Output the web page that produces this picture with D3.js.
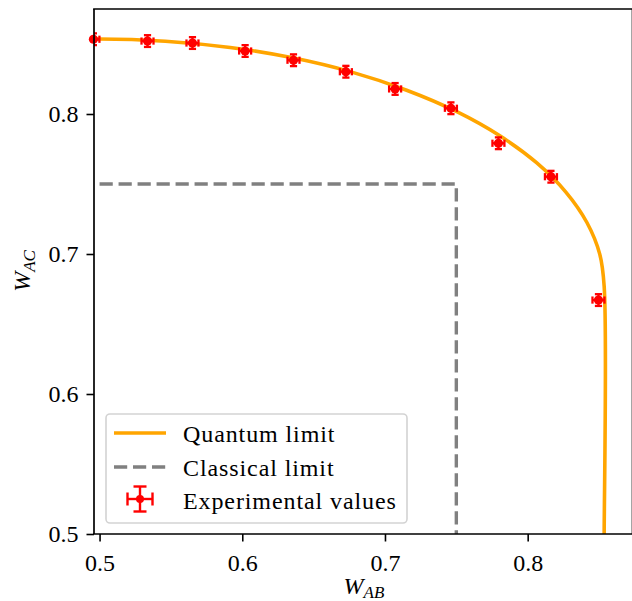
<!DOCTYPE html>
<html>
<head>
<meta charset="utf-8">
<script src="https://cdn.jsdelivr.net/npm/d3@7"></script>
<style>
html,body{margin:0;padding:0;background:#fff;}
svg{display:block;}
text{font-family:"Liberation Serif","Tinos","Times New Roman",serif;fill:#000;}
</style>
</head>
<body>
<div id="chart"></div>
<script>
// ---- data ----
const xTicks = [0.5, 0.6, 0.7, 0.8];
const yTicks = [0.5, 0.6, 0.7, 0.8];
const xTickLabels = ["0.5", "0.6", "0.7", "0.8"];
const yTickLabels = ["0.5", "0.6", "0.7", "0.8"];

// quantum limit curve (estimated along the orange line)
const quantumX = [0.4539, 0.5000, 0.5461, 0.5915, 0.6353, 0.6768, 0.7152, 0.7500, 0.7805, 0.8062, 0.8266, 0.8415, 0.8505, 0.8536, 0.8536, 0.8536];
const quantumY = [0.8520, 0.8536, 0.8520, 0.8475, 0.8401, 0.8299, 0.8170, 0.8018, 0.7844, 0.7652, 0.7444, 0.7225, 0.6999, 0.6768, 0.5000, 0.4900];

// classical limit
const classicalX = [0.5, 0.75, 0.75];
const classicalY = [0.75, 0.75, 0.49];

// experimental values
const expX = [0.4957, 0.5336, 0.5651, 0.6020, 0.6359, 0.6726, 0.7071, 0.7462, 0.7795, 0.8163, 0.8496];
const expY = [0.8534, 0.8521, 0.8507, 0.8450, 0.8384, 0.8302, 0.8179, 0.8041, 0.7791, 0.7552, 0.6671];
const expXErr = [0.0042, 0.0042, 0.0042, 0.0042, 0.0042, 0.0042, 0.0042, 0.0042, 0.0042, 0.0042, 0.0042];
const expYErr = [0.0042, 0.0042, 0.0042, 0.0042, 0.0042, 0.0042, 0.0042, 0.0042, 0.0042, 0.0042, 0.0042];

const legendLabels = ["Quantum limit", "Classical limit", "Experimental values"];

// ---- layout ----
const W = 632, H = 601;
const L = 94, R = 632.5, T = 9, B = 534;

const svg = d3.select("#chart").append("svg").attr("width", W).attr("height", H);

const x = d3.scaleLinear().domain([0.4961, 0.8731]).range([L, 632]);
const y = d3.scaleLinear().domain([0.5, 0.875]).range([B, T]);

svg.append("defs").append("clipPath").attr("id", "clip")
  .append("rect").attr("x", L).attr("y", T).attr("width", R - L).attr("height", B - T);

const plot = svg.append("g").attr("clip-path", "url(#clip)");

const quantum = quantumX.map((v, i) => [v, quantumY[i]]);
const classical = classicalX.map((v, i) => [v, classicalY[i]]);

plot.append("path").datum(quantum)
  .attr("d", d3.line().x(d => x(d[0])).y(d => y(d[1])).curve(d3.curveCatmullRom.alpha(0.5)))
  .attr("fill", "none").attr("stroke", "#FFA500").attr("stroke-width", 3.6);

plot.append("path").datum(classical)
  .attr("d", d3.line().x(d => x(d[0])).y(d => y(d[1])))
  .attr("fill", "none").attr("stroke", "#808080").attr("stroke-width", 3.4)
  .attr("stroke-dasharray", "13.2,5.8");

// error bars
const red = "#FF0000";
const exp = expX.map((v, i) => ({x: v, y: expY[i], ex: expXErr[i], ey: expYErr[i]}));
const cap = 3.6;
const eb = plot.append("g").attr("stroke", red).attr("stroke-width", 2.3);
exp.forEach(d => {
  const cx = x(d.x), cy = y(d.y);
  const x0 = x(d.x - d.ex), x1 = x(d.x + d.ex);
  const y0 = y(d.y - d.ey), y1 = y(d.y + d.ey);
  eb.append("line").attr("x1", x0).attr("x2", x1).attr("y1", cy).attr("y2", cy);
  eb.append("line").attr("x1", cx).attr("x2", cx).attr("y1", y0).attr("y2", y1);
  eb.append("line").attr("x1", x0).attr("x2", x0).attr("y1", cy - cap).attr("y2", cy + cap);
  eb.append("line").attr("x1", x1).attr("x2", x1).attr("y1", cy - cap).attr("y2", cy + cap);
  eb.append("line").attr("x1", cx - cap).attr("x2", cx + cap).attr("y1", y0).attr("y2", y0);
  eb.append("line").attr("x1", cx - cap).attr("x2", cx + cap).attr("y1", y1).attr("y2", y1);
});
svg.append("g").selectAll("circle").data(exp).join("circle")
  .attr("cx", d => x(d.x)).attr("cy", d => y(d.y)).attr("r", 4.6).attr("fill", red);

// ---- axes ----
const xAxis = d3.axisBottom(x).tickValues(xTicks).tickFormat((d, i) => xTickLabels[i]).tickSize(7.5).tickPadding(6);
const yAxis = d3.axisLeft(y).tickValues(yTicks).tickFormat((d, i) => yTickLabels[i]).tickSize(7.5).tickPadding(8);

const gx = svg.append("g").attr("transform", `translate(0,${B})`).call(xAxis);
const gy = svg.append("g").attr("transform", `translate(${L},0)`).call(yAxis);
[gx, gy].forEach(g => {
  g.attr("font-family", null);
  g.select(".domain").remove();
  g.selectAll(".tick line").attr("stroke", "#000").attr("stroke-width", 1.6);
  g.selectAll(".tick text").attr("font-size", 24).attr("fill", "#000");
});
gx.selectAll(".tick text").attr("dy", null).attr("y", 37);
gy.selectAll(".tick text").attr("dy", "0.33em");

// spines
const sp = svg.append("g").attr("stroke", "#000").attr("stroke-width", 1.7).attr("fill", "none");
sp.append("line").attr("x1", L).attr("x2", L).attr("y1", T).attr("y2", B);
sp.append("line").attr("x1", L - 0.85).attr("x2", R).attr("y1", T).attr("y2", T);
sp.append("line").attr("x1", L - 0.85).attr("x2", R).attr("y1", B).attr("y2", B);
sp.append("line").attr("x1", R).attr("x2", R).attr("y1", T).attr("y2", B);

// axis labels
const xl = svg.append("text").attr("x", 364).attr("y", 594).attr("text-anchor", "middle");
xl.append("tspan").attr("font-style", "italic").attr("font-size", 24).text("W");
xl.append("tspan").attr("font-style", "italic").attr("font-size", 17).attr("dy", 4).text("AB");

const yl = svg.append("text").attr("transform", "translate(30,271) rotate(-90)").attr("text-anchor", "middle");
yl.append("tspan").attr("font-style", "italic").attr("font-size", 24).text("W");
yl.append("tspan").attr("font-style", "italic").attr("font-size", 17).attr("dy", 5).text("AC");

// ---- legend ----
const lg = svg.append("g");
lg.append("rect").attr("x", 106).attr("y", 414).attr("width", 301).attr("height", 109)
  .attr("rx", 4).attr("fill", "#fff").attr("fill-opacity", 0.8)
  .attr("stroke", "#d3d3d3").attr("stroke-width", 1.6);

const rows = [433, 467, 499];
lg.append("line").attr("x1", 114).attr("x2", 166).attr("y1", rows[0]).attr("y2", rows[0])
  .attr("stroke", "#FFA500").attr("stroke-width", 3.6);
lg.append("line").attr("x1", 114).attr("x2", 166).attr("y1", rows[1]).attr("y2", rows[1])
  .attr("stroke", "#808080").attr("stroke-width", 3.4).attr("stroke-dasharray", "13.2,5.8");
const h = lg.append("g").attr("stroke", red).attr("stroke-width", 2.4);
const hx = 140, hy = rows[2], hl = 12.5, hc = 6.5;
h.append("line").attr("x1", hx - hl).attr("x2", hx + hl).attr("y1", hy).attr("y2", hy);
h.append("line").attr("x1", hx).attr("x2", hx).attr("y1", hy - hl).attr("y2", hy + hl);
h.append("line").attr("x1", hx - hl).attr("x2", hx - hl).attr("y1", hy - hc).attr("y2", hy + hc);
h.append("line").attr("x1", hx + hl).attr("x2", hx + hl).attr("y1", hy - hc).attr("y2", hy + hc);
h.append("line").attr("x1", hx - hc).attr("x2", hx + hc).attr("y1", hy - hl).attr("y2", hy - hl);
h.append("line").attr("x1", hx - hc).attr("x2", hx + hc).attr("y1", hy + hl).attr("y2", hy + hl);
lg.append("circle").attr("cx", hx).attr("cy", hy).attr("r", 4).attr("fill", red);

lg.selectAll("text.leg").data(legendLabels).join("text").attr("class", "leg")
  .attr("x", 183).attr("y", (d, i) => [442, 475.5, 509][i])
  .attr("font-size", 24).attr("letter-spacing", 0.9).text(d => d);
</script>
</body>
</html>
